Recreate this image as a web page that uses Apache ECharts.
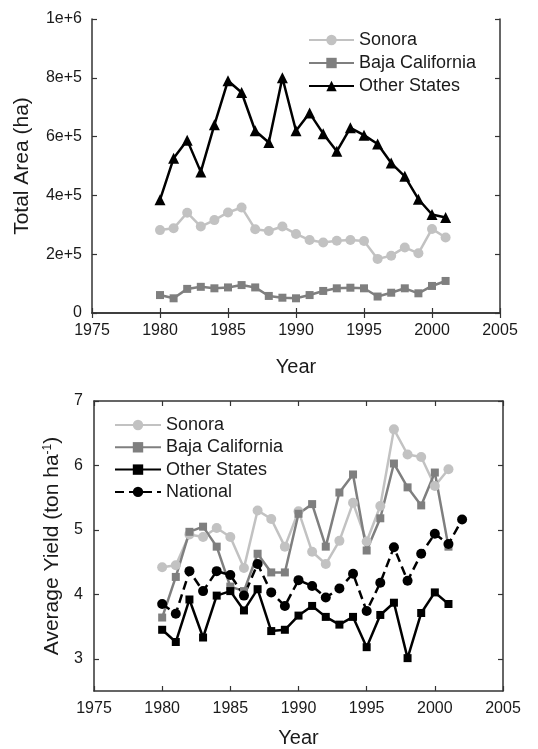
<!DOCTYPE html>
<html>
<head>
<meta charset="utf-8">
<script src="https://cdn.jsdelivr.net/npm/echarts@6/dist/echarts.min.js"></script>
<style>html,body{margin:0;padding:0;background:#fff}#c{width:538px;height:749px}</style>
</head>
<body>
<div id="c"></div>
<script>
const years = [1980,1981,1982,1983,1984,1985,1986,1987,1988,1989,1990,1991,1992,1993,1994,1995,1996,1997,1998,1999,2000,2001];
const yearsNational = [1980,1981,1982,1983,1984,1985,1986,1987,1988,1989,1990,1991,1992,1993,1994,1995,1996,1997,1998,1999,2000,2001,2002];

const areaSonora = [282000,288000,341000,294000,316000,342000,359000,285000,279000,294000,269000,248000,240000,246000,248000,245000,184000,195000,223000,203000,286000,257000];
const areaBaja = [61000,50000,82000,89000,84000,87000,95000,87000,58000,52000,50000,61000,75000,84000,86000,84000,56000,69000,84000,67000,92000,109000];
const areaOther = [385000,526000,588000,480000,640000,790000,750000,620000,580000,800000,620000,680000,610000,550000,630000,605000,575000,510000,465000,387000,335000,325000];

const yieldSonora = [4.42,4.45,4.93,4.89,5.03,4.89,4.41,5.30,5.17,4.74,5.29,4.66,4.47,4.83,5.42,4.82,5.37,6.56,6.17,6.13,5.68,5.94];
const yieldBaja = [3.64,4.27,4.97,5.05,4.74,4.12,4.05,4.63,4.34,4.34,5.25,5.40,4.74,5.58,5.86,4.68,5.18,6.03,5.66,5.38,5.89,4.74];
const yieldOther = [3.45,3.26,3.92,3.33,3.98,4.05,3.75,4.08,3.43,3.45,3.67,3.82,3.65,3.53,3.65,3.18,3.68,3.87,3.01,3.71,4.03,3.85];
const yieldNational = [3.85,3.70,4.36,4.05,4.36,4.30,3.98,4.47,4.03,3.82,4.22,4.13,3.95,4.09,4.32,3.74,4.18,4.73,4.21,4.63,4.94,4.78,5.16];

const yieldTicks = [3,4,5,6,7];

const FONT = '"Liberation Sans", Arial, Helvetica, sans-serif';
const LIGHT = '#c2c2c2', MID = '#7f7f7f', DARK = '#000000', FRAME = '#333333';

function pairs(xs, ys){ return ys.map((v,i)=>[xs[i], v]); }

const lineAxisStyle = {show:true, lineStyle:{color:FRAME, width:1.5}};
const tickIn = {show:true, inside:true, length:5, lineStyle:{color:FRAME, width:1.2}};

function xMain(grid, gap){
  return {type:'value', gridIndex:grid, min:1975, max:2005, interval:5, position:'bottom',
    axisLine:lineAxisStyle, axisTick:tickIn, splitLine:{show:false},
    axisLabel:{fontFamily:FONT, fontSize:16, color:'#1a1a1a', margin:10, formatter:v => String(v)},
    name:'Year', nameLocation:'middle', nameGap:gap,
    nameTextStyle:{fontFamily:FONT, fontSize:20, color:'#1a1a1a'}};
}
function xMirror(grid){
  return {type:'value', gridIndex:grid, min:1975, max:2005, interval:5, position:'top',
    axisLine:lineAxisStyle, axisTick:tickIn, axisLabel:{show:false}, splitLine:{show:false}};
}

const option = {
  animation:false,
  backgroundColor:'#ffffff',
  grid:[
    {left:92, top:19, width:408, height:294},
    {left:94, top:401, width:409, height:294}
  ],
  xAxis:[ xMain(0, 44), xMirror(0), xMain(1, 37), xMirror(1) ],
  yAxis:[
    {type:'value', gridIndex:0, min:0, max:1000000, interval:200000, position:'left',
      axisLine:lineAxisStyle, axisTick:tickIn, splitLine:{show:false},
      axisLabel:{fontFamily:FONT, fontSize:16, color:'#1a1a1a', margin:10,
        formatter:v => v === 0 ? '0' : v.toExponential()},
      name:'Total Area (ha)', nameLocation:'middle', nameGap:59, nameRotate:90,
      nameTextStyle:{fontFamily:FONT, fontSize:21, color:'#1a1a1a'}},
    {type:'value', gridIndex:0, min:0, max:1000000, interval:200000, position:'right',
      axisLine:lineAxisStyle, axisTick:tickIn, axisLabel:{show:false}, splitLine:{show:false}},
    {type:'value', gridIndex:1, min:2.5, max:7, position:'left',
      axisLine:lineAxisStyle,
      axisTick:{show:true, inside:true, length:5, lineStyle:{color:FRAME, width:1.2}, customValues:yieldTicks},
      splitLine:{show:false},
      axisLabel:{fontFamily:FONT, fontSize:16, color:'#1a1a1a', margin:11, customValues:yieldTicks},
      name:'Average Yield (ton ha{sup|-1})', nameLocation:'middle', nameGap:29, nameRotate:90,
      nameTextStyle:{fontFamily:FONT, fontSize:21, color:'#1a1a1a',
        rich:{sup:{fontFamily:FONT, fontSize:12, color:'#1a1a1a', verticalAlign:'top', padding:[0,0,10,0]}}}},
    {type:'value', gridIndex:1, min:2.5, max:7, position:'right',
      axisLine:lineAxisStyle,
      axisTick:{show:true, inside:true, length:5, lineStyle:{color:FRAME, width:1.2}, customValues:yieldTicks},
      axisLabel:{show:false}, splitLine:{show:false}}
  ],
  legend:[
    {orient:'vertical', left:303, top:26, itemWidth:45, itemHeight:13, itemGap:5,
      data:['Sonora','Baja California','Other States'],
      textStyle:{fontFamily:FONT, fontSize:18, color:'#1a1a1a', lineHeight:18}},
    {orient:'vertical', left:109, top:411, itemWidth:46, itemHeight:13, itemGap:4.3,
      data:['Sonora ','Baja California ','Other States ','National'],
      textStyle:{fontFamily:FONT, fontSize:18, color:'#1a1a1a', lineHeight:18}}
  ],
  series:[
    {name:'Sonora', type:'line', xAxisIndex:0, yAxisIndex:0, data:pairs(years, areaSonora),
      symbol:'circle', symbolSize:10, lineStyle:{color:LIGHT, width:2.5}, itemStyle:{color:LIGHT}},
    {name:'Baja California', type:'line', xAxisIndex:0, yAxisIndex:0, data:pairs(years, areaBaja),
      symbol:'rect', symbolSize:8, lineStyle:{color:MID, width:2.5}, itemStyle:{color:MID}},
    {name:'Other States', type:'line', xAxisIndex:0, yAxisIndex:0, data:pairs(years, areaOther),
      symbol:'triangle', symbolSize:11, lineStyle:{color:DARK, width:2.5}, itemStyle:{color:DARK}},

    {name:'Sonora ', type:'line', xAxisIndex:2, yAxisIndex:2, data:pairs(years, yieldSonora),
      symbol:'circle', symbolSize:10, lineStyle:{color:LIGHT, width:2.5}, itemStyle:{color:LIGHT}},
    {name:'Baja California ', type:'line', xAxisIndex:2, yAxisIndex:2, data:pairs(years, yieldBaja),
      symbol:'rect', symbolSize:8, lineStyle:{color:MID, width:2.5}, itemStyle:{color:MID}},
    {name:'Other States ', type:'line', xAxisIndex:2, yAxisIndex:2, data:pairs(years, yieldOther),
      symbol:'rect', symbolSize:8, lineStyle:{color:DARK, width:2.5}, itemStyle:{color:DARK}},
    {name:'National', type:'line', xAxisIndex:2, yAxisIndex:2, data:pairs(yearsNational, yieldNational),
      symbol:'circle', symbolSize:10, lineStyle:{color:DARK, width:2.5, type:[9,5]}, itemStyle:{color:DARK}}
  ]
};

const chart = echarts.init(document.getElementById('c'), null, {renderer:'canvas'});
chart.setOption(option);
</script>
</body>
</html>
